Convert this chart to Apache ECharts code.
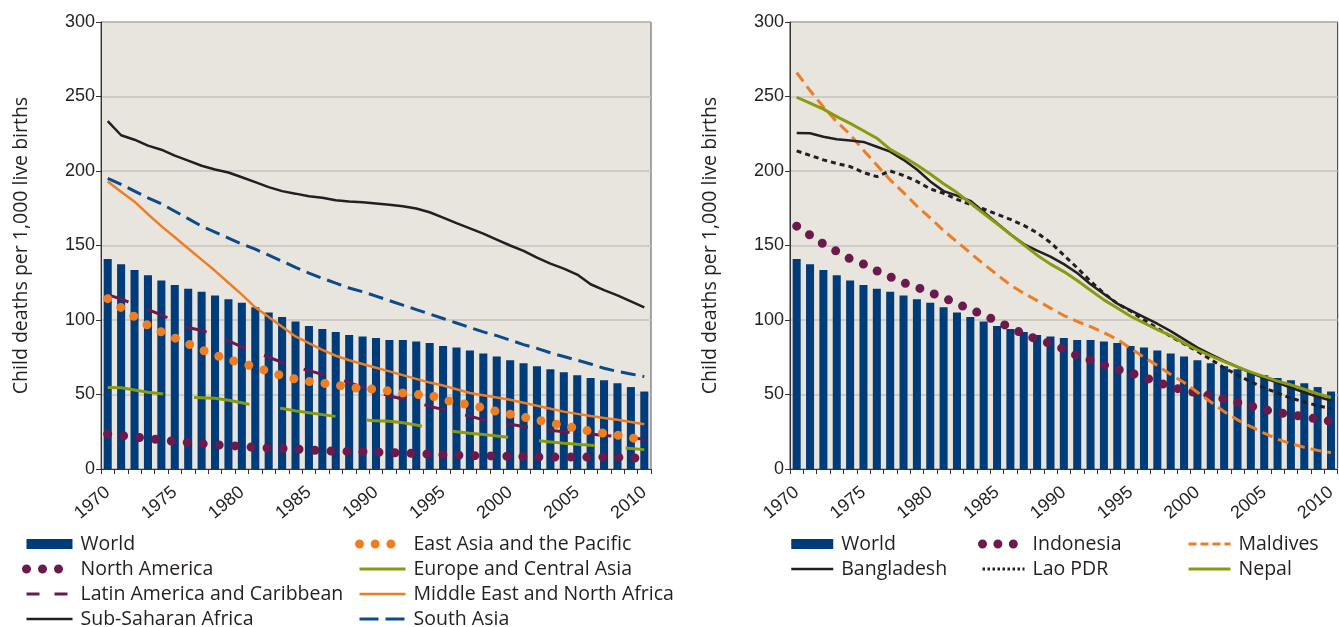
<!DOCTYPE html>
<html>
<head>
<meta charset="utf-8">
<script src="https://cdn.jsdelivr.net/npm/echarts@6/dist/echarts.min.js"></script>
<style>
  html, body { margin: 0; padding: 0; background: #fff; }
  #main { width: 1339px; height: 627px; }
</style>
</head>
<body>
<div id="main"></div>
<script>
var years = ['1970','1971','1972','1973','1974','1975','1976','1977','1978','1979',
             '1980','1981','1982','1983','1984','1985','1986','1987','1988','1989',
             '1990','1991','1992','1993','1994','1995','1996','1997','1998','1999',
             '2000','2001','2002','2003','2004','2005','2006','2007','2008','2009','2010'];

// world average, shown as bars in both panels
var world = [141, 137.5, 133.5, 130, 126.5, 123.5, 121, 119, 116.5, 114,
             111.5, 108.5, 105, 102, 99, 96, 94, 92, 90, 89,
             88, 86.5, 86.5, 85.5, 84.5, 82.5, 81.5, 79.5, 77.5, 75.5,
             73, 71, 69, 67, 65, 63, 61, 59.5, 57.5, 55, 52];

// left panel: regions
var subSaharan = [233.5, 224, 221, 217, 214.3, 210.3, 207, 203.5, 201, 199,
                  195.8, 192.5, 189.2, 186.5, 184.8, 183, 182, 180.3, 179.5, 179,
                  178.2, 177.3, 176.4, 174.8, 172.3, 168.7, 165, 161.5, 158, 154,
                  150, 146.4, 141.8, 137.8, 134.5, 130.5, 124, 120, 116.5, 112.5, 108.5];
var southAsia = [195, 191, 186.5, 182, 178, 173, 168, 163, 159, 155,
                 151, 147.5, 143.5, 139.5, 135.3, 131.5, 128, 124.7, 121.5, 119,
                 116, 113, 110, 107, 104, 101, 98, 95, 92, 89.5,
                 86.5, 83.5, 81, 78, 75.5, 73, 70.5, 67.6, 65.5, 63.8, 62];
var mena = [193, 186, 179.4, 171, 163, 155.5, 148, 140.5, 133, 125,
            117, 108.5, 102, 95.5, 89, 84.5, 80, 76, 73, 70.5,
            68, 65.5, 63, 60.5, 58, 56, 53.5, 51, 49.5, 48,
            46.5, 44.5, 42.5, 40.5, 38.5, 37, 35.5, 34.3, 33, 31.5, 30];
var eastAsia = [114.3, 108.3, 102.2, 96.4, 92, 88, 84, 80, 76.5, 73.5,
                71, 68.3, 65.5, 62.5, 60.3, 58.8, 57.6, 56.5, 54.7, 54.1,
                53.4, 52.3, 51, 50, 49.6, 46.6, 44.5, 43, 41, 38.6,
                36.8, 34.8, 33, 31, 29, 27.3, 25.2, 24, 22.7, 21, 19.5];
var latinAm = [117, 114, 110.5, 107, 103.5, 99, 95, 93, 90, 86,
               82, 78.5, 75, 71.5, 68.5, 66, 63.5, 61, 58, 55,
               52, 49, 47, 45, 42, 40, 37.5, 35.5, 33, 31.5,
               30, 28.5, 27, 26, 25, 24, 23.5, 22.5, 21.8, 21, 20];
var northAm = [23.5, 22.5, 21.5, 20.5, 19.5, 18.5, 17.7, 17, 16.2, 15.8,
               15.2, 14.5, 14, 13.8, 13.4, 12.8, 12.2, 11.9, 11.8, 11.6,
               11.3, 11, 10.7, 10.4, 10, 9.6, 9.3, 9, 8.9, 8.7,
               8.5, 8.3, 8.1, 8, 8, 8, 8, 8, 7.8, 7.5, 7.2];
var europe = [54.7, 54.5, 53, 51.5, 50.5, 49.5, 48, 47.8, 47.5, 46.2,
              44.5, 42.5, 41.5, 40.6, 39, 37.7, 36.5, 35.3, 34, 33,
              32.3, 32, 31, 29.5, 27.5, 26.3, 25, 24, 23.2, 22.2,
              21.2, 20, 19, 18.2, 17.3, 16.6, 16, 15.2, 14.5, 13.8, 13];

// right panel: countries
var indonesia = [163, 157, 151, 146, 141, 137.5, 133, 129, 125, 122,
                 118.5, 115, 111, 107, 103.5, 99, 95, 90.5, 87, 84.3,
                 80.5, 76, 73, 69.8, 67, 64.5, 61.5, 58.5, 55, 53,
                 51, 49, 47, 44.7, 42.3, 39.8, 38, 36.5, 35, 33.5, 32];
var maldives = [266, 254, 243, 233, 224.5, 214, 204, 194, 185.5, 176.5,
                168.5, 160, 152.5, 145, 137.5, 130.5, 123.5, 118, 113, 108,
                103, 99, 95.5, 91.5, 87, 81, 75, 69.5, 63.5, 58,
                51.5, 45, 38.5, 33, 28.5, 24, 20, 17, 14.5, 12.5, 11];
var bangladesh = [225.5, 225.3, 223, 221.3, 220.5, 219.5, 216.3, 213, 207.5, 201,
                  193, 186.5, 183.5, 180, 172.5, 165, 157.5, 151, 146.5, 142.5,
                  137.5, 131.5, 124, 117.5, 111, 106.5, 102, 97.5, 92.5, 87,
                  81.5, 77, 72.5, 68.5, 64.5, 61, 58, 54.5, 51.5, 48.5, 46];
var lao = [213.5, 210.5, 207.5, 205, 203, 199, 196.2, 200, 197, 193,
           188, 185, 181, 177.5, 174.5, 171, 167.5, 163.5, 158.5, 152,
           143.5, 135, 126, 118, 111, 106, 100, 94.5, 89, 84,
           79, 73.5, 68, 63, 58.5, 54.5, 51, 47.5, 45, 42.5, 40.5];
var nepal = [249.5, 245.5, 241.5, 236.5, 232, 227, 222, 214.5, 209.5, 204,
             198, 191.5, 185.5, 178.5, 171.5, 164.5, 157.5, 150.5, 143.5, 137.5,
             132.5, 126.5, 120, 113.5, 108, 102.5, 98, 93.5, 89.5, 84.5,
             80, 76, 72, 68.5, 65, 62, 59, 56.5, 53.5, 50.5, 48];

var yName = 'Child deaths per 1,000 live births';
var FONT = '"Liberation Sans", Arial, sans-serif';
var WIDE = '"Open Sans", "Liberation Sans", sans-serif';
var TXT = '#231F20';

var NAVY = '#003B7A';
var BLACK = '#231F20';
var ORANGE = '#EF7D22';
var PURPLE = '#6A1A4C';
var OLIVE = '#8A9A0E';
var BLUE = '#0B4A8B';

// legend-only dash patterns (the icons are shorter than the plot dashes)
var legendDash = {
  'Latin America and Caribbean': [13, 15],
  'South Asia': [19, 7],
  'Lao PDR': [2.5, 2.5],
  'Maldives': [8, 4]
};

function xAxis(idx) {
  return {
    type: 'category', gridIndex: idx, data: years, boundaryGap: true,
    axisLine: { lineStyle: { color: '#333', width: 1 } },
    axisTick: { show: true, interval: 0, length: 5, lineStyle: { color: '#333' } },
    axisLabel: { interval: 4, rotate: 40, margin: 21, fontSize: 18, color: TXT, fontFamily: FONT },
    splitLine: { show: false }
  };
}
function yAxis(idx) {
  return {
    type: 'value', gridIndex: idx, min: 0, max: 300, interval: 50,
    name: yName, nameLocation: 'middle', nameGap: 70, nameRotate: 90,
    nameTextStyle: { fontSize: 19.5, color: TXT, fontFamily: WIDE },
    axisLine: { show: true, lineStyle: { color: '#333', width: 1 } },
    axisTick: { show: true, length: 5, lineStyle: { color: '#333' } },
    axisLabel: { fontSize: 18, color: TXT, fontFamily: FONT, margin: 6 },
    splitLine: { lineStyle: { color: '#C9C4BD', width: 1.5 } }
  };
}
function bar(name, data, idx) {
  return { name: name, type: 'bar', xAxisIndex: idx, yAxisIndex: idx, data: data,
           barWidth: '60%', itemStyle: { color: NAVY }, z: 1 };
}
function line(name, data, idx, color, width, dash, cap) {
  return { name: name, type: 'line', xAxisIndex: idx, yAxisIndex: idx, data: data,
           symbol: 'none', smooth: false, z: 3,
           lineStyle: { color: color, width: width, type: dash || 'solid', cap: cap || 'butt' },
           itemStyle: { color: color } };
}
function legend(left, top, names, iw) {
  return {
    left: left, top: top, height: 120, padding: 0, orient: 'vertical',
    itemWidth: iw, itemHeight: 10, itemGap: 5,
    selectedMode: false,
    itemStyle: { opacity: 0 },
    lineStyle: { width: 'inherit', type: 'inherit', cap: 'inherit' },
    textStyle: { fontSize: 19.5, lineHeight: 18, color: TXT, fontFamily: WIDE, padding: [0, 0, 0, 3] },
    data: names.map(function (n) {
      if (n === 'World') return { name: n, icon: 'rect', itemStyle: { opacity: 1 } };
      if (legendDash[n]) return { name: n, lineStyle: { type: legendDash[n] } };
      return n;
    })
  };
}

var chart = echarts.init(document.getElementById('main'));
chart.setOption({
  animation: false,
  backgroundColor: '#fff',
  grid: [
    { left: 101, top: 22, width: 550, height: 447, show: true, backgroundColor: '#E8E4DE', borderColor: '#555', borderWidth: 1 },
    { left: 790, top: 22, width: 553, height: 447, show: true, backgroundColor: '#E8E4DE', borderColor: '#333', borderWidth: 1 }
  ],
  xAxis: [xAxis(0), xAxis(1)],
  yAxis: [yAxis(0), yAxis(1)],
  legend: [
    legend(22, 534, ['World', 'North America', 'Latin America and Caribbean', 'Sub-Saharan Africa'], 46),
    legend(355, 534, ['East Asia and the Pacific', 'Europe and Central Asia', 'Middle East and North Africa', 'South Asia'], 46),
    legend(790, 534, ['World', 'Bangladesh'], 42),
    legend(978, 534, ['Indonesia', 'Lao PDR'], 42),
    legend(1187, 534, ['Maldives', 'Nepal'], 42)
  ],
  series: [
    bar('World', world, 0),
    line('Europe and Central Asia', europe, 0, OLIVE, 3, [56, 31]),
    line('North America', northAm, 0, PURPLE, 9, [0, 16], 'round'),
    line('Latin America and Caribbean', latinAm, 0, PURPLE, 3, [22, 20]),
    line('East Asia and the Pacific', eastAsia, 0, ORANGE, 9, [0, 15.7], 'round'),
    line('Middle East and North Africa', mena, 0, ORANGE, 2.5),
    line('South Asia', southAsia, 0, BLUE, 3, [15, 7]),
    line('Sub-Saharan Africa', subSaharan, 0, BLACK, 2.5),

    bar('World', world, 1),
    line('Indonesia', indonesia, 1, PURPLE, 9, [0, 15.4], 'round'),
    line('Maldives', maldives, 1, ORANGE, 3, [11, 6]),
    line('Lao PDR', lao, 1, BLACK, 3, [5, 4]),
    line('Bangladesh', bangladesh, 1, BLACK, 2.5),
    line('Nepal', nepal, 1, OLIVE, 3)
  ]
});
</script>
</body>
</html>
